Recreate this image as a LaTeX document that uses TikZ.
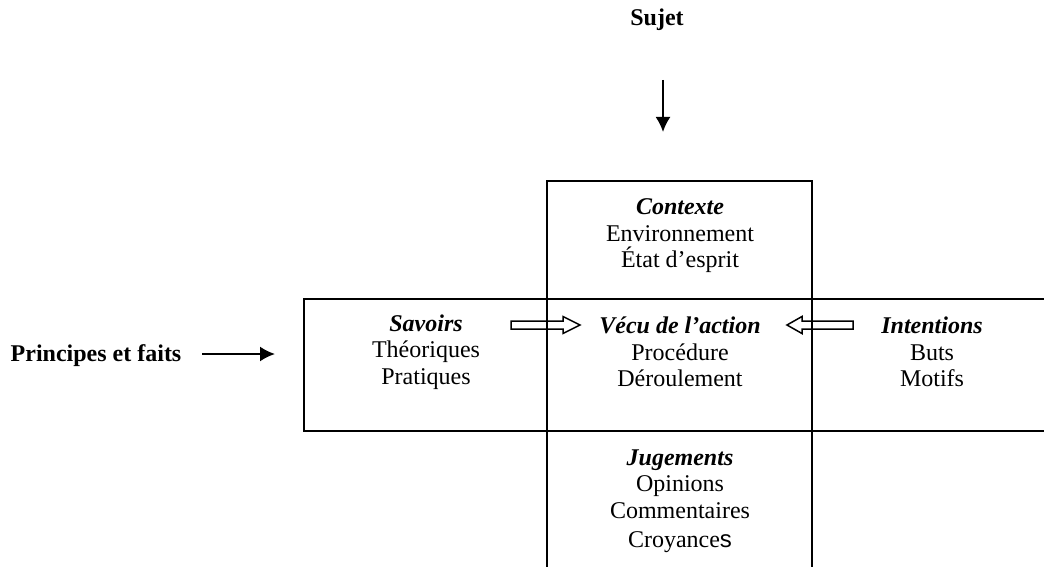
\documentclass[tikz,border=0pt]{standalone}
\usepackage{fontspec}
\setmainfont{Liberation Serif}
\setsansfont{Liberation Sans}
\usetikzlibrary{arrows.meta}
\begin{document}
\begin{tikzpicture}[x=0.5pt,y=-0.5pt,
  frame/.style={line width=1pt},
  txt/.style={align=center,inner sep=0pt,font=\fontsize{12pt}{13.3pt}\selectfont},
  lbl/.style={inner sep=0pt,font=\fontsize{12pt}{14pt}\selectfont\bfseries},
  feed/.style={line width=1pt,-{Latex[length=7.5pt,width=7.5pt]}},
  hollow/.style={line width=0.75pt,line join=miter}]
\useasboundingbox (0,0) rectangle (1044,567);

% the two crossing frames (vertical band and horizontal band)
\begin{scope}
  \clip (0,0) rectangle (1044,567);
  \draw[frame] (547,620) -- (547,181) -- (812,181) -- (812,620);
  \draw[frame] (1100,298.5) -- (304,298.5) -- (304,430.5) -- (1100,430.5);
\end{scope}

% texts
\node[lbl] (sujet) at (657,20) {Sujet};
\node[lbl] (principes) at (96,356) {Principes et faits};

\node[txt] (contexte) at (680,236)
  {{\bfseries\itshape Contexte}\\Environnement\\État d’esprit};
\node[txt] (savoirs) at (426,352)
  {{\bfseries\itshape Savoirs}\\Théoriques\\Pratiques};
\node[txt] (vecu) at (680,352)
  {{\bfseries\itshape Vécu de l’action}\\Procédure\\Déroulement};
\node[txt] (intentions) at (932,352)
  {{\bfseries\itshape Intentions}\\Buts\\Motifs};
\node[txt] (jugements) at (680,501)
  {{\bfseries\itshape Jugements}\\Opinions\\Commentaires\\[1pt]Croyance{\sffamily s}};

% plain arrows
\coordinate (sujetA) at (663,80);
\coordinate (sujetB) at (663,132);
\draw[feed] (sujetA) -- (sujetB);
\coordinate (pfA) at (202,354);
\coordinate (pfB) at (275,354);
\draw[feed] (pfA) -- (pfB);

% hollow block arrows pointing into the centre
\coordinate (leftTail) at (511,325);
\coordinate (rightTail) at (853,325);
\draw[hollow] (leftTail) ++(0,-4) -- ++(52,0) -- ++(0,-4.5) -- ++(17,8.5)
  -- ++(-17,8.5) -- ++(0,-4.5) -- ++(-52,0) -- cycle;
\draw[hollow] (rightTail) ++(0,-4) -- ++(-51,0) -- ++(0,-4.5) -- ++(-15,8.5)
  -- ++(15,8.5) -- ++(0,-4.5) -- ++(51,0) -- cycle;
\end{tikzpicture}
\end{document}
